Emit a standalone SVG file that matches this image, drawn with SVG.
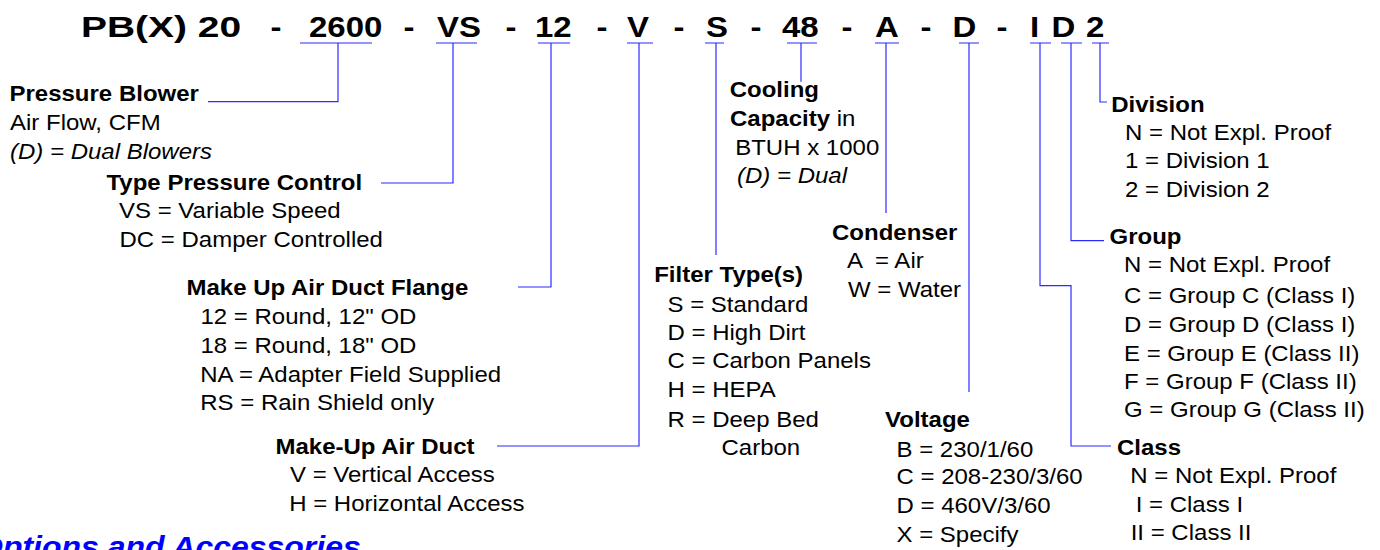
<svg xmlns="http://www.w3.org/2000/svg" width="1380" height="550" viewBox="0 0 1380 550">
<style>
text{font-family:"Liberation Sans",Arial,sans-serif;font-size:24px;fill:#000}
.b{font-weight:bold}
.i{font-style:italic}
.title text{font-size:33px;font-weight:bold}
.opt{font-size:32px;font-weight:bold;font-style:italic;fill:#0000ff}
.c path{fill:none;stroke:#2b2bff;stroke-width:1.2}
</style>
<rect width="1380" height="550" fill="#fff"/>
<g id="title" class="title" transform="matrix(1 0 0 0.915 0 0)">
<text x="0" y="40.44" transform="matrix(1.18 0 0 1 81 0)">PB(X) 20</text>
<text x="270.5" y="40.44">-</text>
<text x="309" y="40.44">2600</text>
<text x="403.5" y="40.44">-</text>
<text x="437" y="40.44">VS</text>
<text x="505.5" y="40.44">-</text>
<text x="535" y="40.44">12</text>
<text x="596.5" y="40.44">-</text>
<text x="627" y="40.44">V</text>
<text x="673.5" y="40.44">-</text>
<text x="706" y="40.44">S</text>
<text x="750.5" y="40.44">-</text>
<text x="782" y="40.44">48</text>
<text x="841.5" y="40.44">-</text>
<text x="875" y="40.44">A</text>
<text x="920.5" y="40.44">-</text>
<text x="952.5" y="40.44">D</text>
<text x="996.5" y="40.44">-</text>
<text x="1030" y="40.44">I</text>
<text x="1051.5" y="40.44">D</text>
<text x="1086" y="40.44">2</text>
</g>
<g id="connectors" class="c">
<path d="M300,43H372M436,43H477M538,43H570M627,43H653M705,43H724M787,43H817M875,43H899M959,43H979M1030,43H1051M1061,43H1082M1092,43H1109"/>
<path d="M338,43V101.7H208"/>
<path d="M453,43V183H381"/>
<path d="M551,43V287H518"/>
<path d="M639,43V446H497"/>
<path d="M716,43V255"/>
<path d="M801,43V81.7"/>
<path d="M886,43V213"/>
<path d="M969,43V392"/>
<path d="M1040,43V285.7H1071V446H1111"/>
<path d="M1071,43V240.7H1104"/>
<path d="M1100,43V102H1107"/>
</g>
<g id="pressure-blower" transform="matrix(1 0 0 0.915 0 0)">
<text class="b" x="9.5" y="110.38">Pressure Blower</text>
<text x="10" y="142.62">Air Flow, CFM</text>
<text class="i" x="10" y="174.1">(D) = Dual Blowers</text>
</g>
<g id="type-pressure-control" transform="matrix(1 0 0 0.915 0 0)">
<text class="b" x="106.5" y="207.65">Type Pressure Control</text>
<text x="119" y="238.58">VS = Variable Speed</text>
<text x="119.5" y="269.62">DC = Damper Controlled</text>
</g>
<g id="duct-flange" transform="matrix(1 0 0 0.915 0 0)">
<text class="b" x="186.5" y="322.4">Make Up Air Duct Flange</text>
<text x="200.5" y="354.1">12 = Round, 12" OD</text>
<text x="200.5" y="385.46">18 = Round, 18" OD</text>
<text x="200.3" y="417.16">NA = Adapter Field Supplied</text>
<text x="200.2" y="448.09">RS = Rain Shield only</text>
</g>
<g id="air-duct" transform="matrix(1 0 0 0.915 0 0)">
<text class="b" x="275.5" y="496.17">Make-Up Air Duct</text>
<text x="290" y="526.45">V = Vertical Access</text>
<text x="289.2" y="558.14">H = Horizontal Access</text>
</g>
<g id="filter" transform="matrix(1 0 0 0.915 0 0)">
<text class="b" x="654.2" y="307.87">Filter Type(s)</text>
<text x="667.5" y="340.66">S = Standard</text>
<text x="667.5" y="371.58">D = High Dirt</text>
<text x="667.5" y="402.5">C = Carbon Panels</text>
<text x="667.5" y="434.2">H = HEPA</text>
<text x="667.5" y="466.34">R = Deep Bed</text>
<text x="721.5" y="497.27">Carbon</text>
</g>
<g id="cooling" transform="matrix(1 0 0 0.915 0 0)">
<text class="b" x="729.7" y="106.34">Cooling</text>
<text x="730" y="137.7"><tspan class="b">Capacity</tspan> in</text>
<text x="735.2" y="169.4">BTUH x 1000</text>
<text class="i" x="737" y="200">(D) = Dual</text>
</g>
<g id="condenser" transform="matrix(1 0 0 0.915 0 0)">
<text class="b" x="832" y="262.3">Condenser</text>
<text x="847" y="293.2" xml:space="preserve">A  = Air</text>
<text x="848" y="324.26">W = Water</text>
</g>
<g id="voltage" transform="matrix(1 0 0 0.915 0 0)">
<text class="b" x="885" y="467">Voltage</text>
<text x="896.5" y="499.13">B = 230/1/60</text>
<text x="896.5" y="528.96">C = 208-230/3/60</text>
<text x="896.5" y="561">D = 460V/3/60</text>
<text x="896.5" y="592.02">X = Specify</text>
</g>
<g id="division" transform="matrix(1 0 0 0.915 0 0)">
<text class="b" x="1111.2" y="122.08">Division</text>
<text x="1125" y="153">N = Not Expl. Proof</text>
<text x="1125" y="183.93">1 = Division 1</text>
<text x="1125" y="214.97">2 = Division 2</text>
</g>
<g id="group" transform="matrix(1 0 0 0.915 0 0)">
<text class="b" x="1109.5" y="266.67">Group</text>
<text x="1124" y="297.6">N = Not Expl. Proof</text>
<text x="1124" y="331.48">C = Group C (Class I)</text>
<text x="1124" y="362.51">D = Group D (Class I)</text>
<text x="1124" y="394.2">E = Group E (Class II)</text>
<text x="1124" y="425.14">F = Group F (Class II)</text>
<text x="1124" y="456.07">G = Group G (Class II)</text>
</g>
<g id="class" transform="matrix(1 0 0 0.915 0 0)">
<text class="b" x="1117" y="497.27">Class</text>
<text x="1130.3" y="528.2">N = Not Expl. Proof</text>
<text x="1135.7" y="559.23">I = Class I</text>
<text x="1130.7" y="590.16">II = Class II</text>
</g>
<g id="options" transform="matrix(1 0 0 0.915 0 0)">
<text class="opt" x="-22" y="609.1">Options and Accessories</text>
</g>
</svg>
